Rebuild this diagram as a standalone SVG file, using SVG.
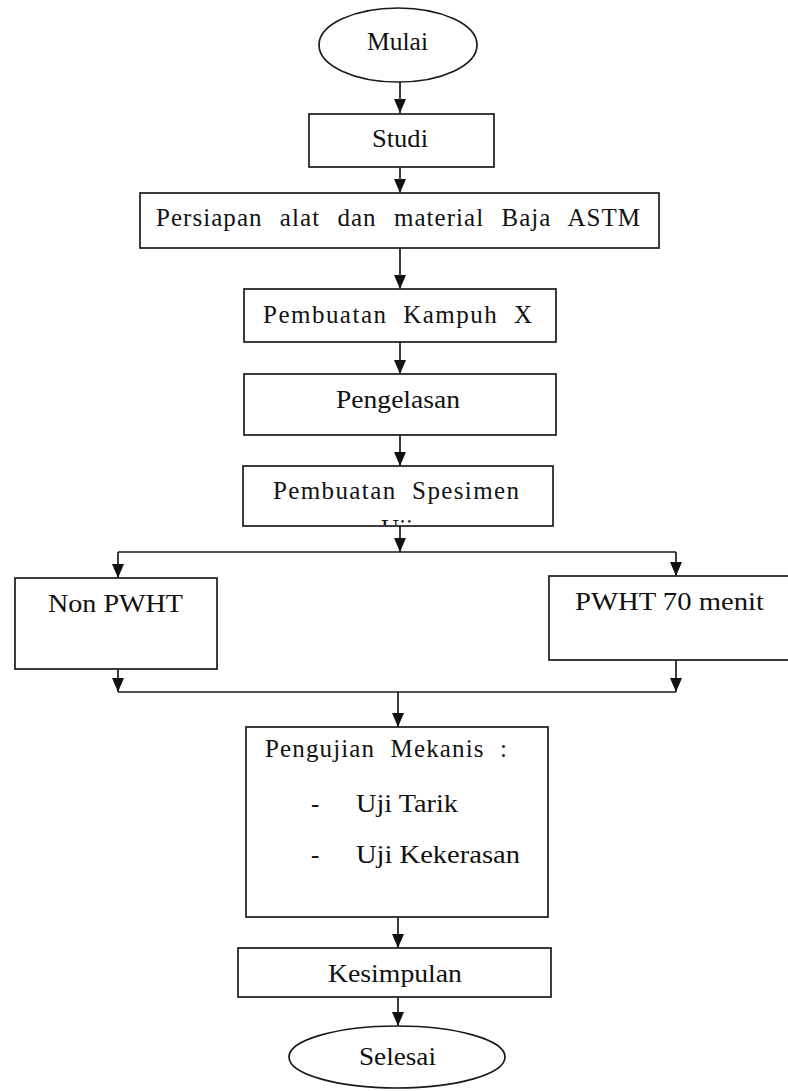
<svg xmlns="http://www.w3.org/2000/svg" width="788" height="1091" viewBox="0 0 788 1091">
<style>
.n{fill:#fff;stroke:#1a1a1a;stroke-width:1.7}
.t{font-family:"Liberation Serif","DejaVu Serif","Times New Roman",serif;font-size:25px;fill:#111}
.c{fill:none;stroke:#1a1a1a;stroke-width:1.7}
</style>
<defs>
<marker id="ah" markerUnits="userSpaceOnUse" markerWidth="14" markerHeight="12" refX="14" refY="6" orient="auto" viewBox="0 0 14 12">
<path d="M0,0 L14,6 L0,12 Z" fill="#111"/>
</marker>
<clipPath id="clipSpes"><rect x="244" y="467" width="308" height="58"/></clipPath>
</defs>
<g id="connectors">
<line class="c" x1="400" y1="82" x2="400" y2="113" marker-end="url(#ah)"/>
<line class="c" x1="400" y1="167" x2="400" y2="193" marker-end="url(#ah)"/>
<line class="c" x1="400" y1="248" x2="400" y2="289" marker-end="url(#ah)"/>
<line class="c" x1="400" y1="342" x2="400" y2="374" marker-end="url(#ah)"/>
<line class="c" x1="400" y1="435" x2="400" y2="466" marker-end="url(#ah)"/>
<line class="c" x1="400" y1="526" x2="400" y2="552" marker-end="url(#ah)"/>
<line class="c" x1="118" y1="552" x2="676" y2="552"/>
<line class="c" x1="118" y1="552" x2="118" y2="578" marker-end="url(#ah)"/>
<line class="c" x1="676" y1="552" x2="676" y2="576" marker-end="url(#ah)"/>
<line class="c" x1="118" y1="669" x2="118" y2="692" marker-end="url(#ah)"/>
<line class="c" x1="676" y1="660" x2="676" y2="692" marker-end="url(#ah)"/>
<line class="c" x1="118" y1="692" x2="676" y2="692"/>
<line class="c" x1="398" y1="692" x2="398" y2="727" marker-end="url(#ah)"/>
<line class="c" x1="398" y1="917" x2="398" y2="948" marker-end="url(#ah)"/>
<line class="c" x1="398" y1="997" x2="398" y2="1026" marker-end="url(#ah)"/>
</g>
<g id="mulai">
<ellipse class="n" cx="398" cy="45" rx="79" ry="37"/>
<text class="t" x="367" y="50" textLength="61" lengthAdjust="spacingAndGlyphs">Mulai</text>
</g>
<g id="studi">
<rect class="n" x="309" y="114" width="185" height="53"/>
<text class="t" x="372" y="147" textLength="56" lengthAdjust="spacingAndGlyphs">Studi</text>
</g>
<g id="persiapan">
<rect class="n" x="140" y="193" width="519" height="55"/>
<text class="t" x="156" y="226" textLength="484" lengthAdjust="spacing" style="word-spacing:10px">Persiapan alat dan material Baja ASTM</text>
</g>
<g id="kampuh">
<rect class="n" x="244" y="289" width="312" height="53"/>
<text class="t" x="263" y="323" textLength="269" lengthAdjust="spacing" style="word-spacing:8px">Pembuatan Kampuh X</text>
</g>
<g id="pengelasan">
<rect class="n" x="244" y="374" width="312" height="61"/>
<text class="t" x="336" y="408" textLength="124" lengthAdjust="spacingAndGlyphs">Pengelasan</text>
</g>
<g id="spesimen">
<rect class="n" x="243" y="466" width="310" height="60"/>
<text class="t" x="273" y="499" textLength="246" lengthAdjust="spacing" style="word-spacing:8px">Pembuatan Spesimen</text>
<text class="t" x="397" y="537" text-anchor="middle" clip-path="url(#clipSpes)">Uji</text>
</g>
<g id="non-pwht">
<rect class="n" x="15" y="578" width="202" height="91"/>
<text class="t" x="48" y="612" textLength="135" lengthAdjust="spacingAndGlyphs">Non PWHT</text>
</g>
<g id="pwht">
<rect class="n" x="549" y="576" width="245" height="84"/>
<text class="t" x="575" y="610" textLength="189" lengthAdjust="spacingAndGlyphs">PWHT 70 menit</text>
</g>
<g id="pengujian">
<rect class="n" x="246" y="727" width="302" height="190"/>
<text class="t" x="265" y="757" textLength="242" lengthAdjust="spacing" style="word-spacing:8px">Pengujian Mekanis :</text>
<text class="t" x="311" y="812">-</text>
<text class="t" x="356" y="812" textLength="102" lengthAdjust="spacingAndGlyphs">Uji Tarik</text>
<text class="t" x="311" y="863">-</text>
<text class="t" x="356" y="863" textLength="164" lengthAdjust="spacingAndGlyphs">Uji Kekerasan</text>
</g>
<g id="kesimpulan">
<rect class="n" x="238" y="948" width="313" height="49"/>
<text class="t" x="328" y="982" textLength="134" lengthAdjust="spacingAndGlyphs">Kesimpulan</text>
</g>
<g id="selesai">
<ellipse class="n" cx="397" cy="1057" rx="108" ry="31"/>
<text class="t" x="359" y="1065" textLength="77" lengthAdjust="spacingAndGlyphs">Selesai</text>
</g>
</svg>
